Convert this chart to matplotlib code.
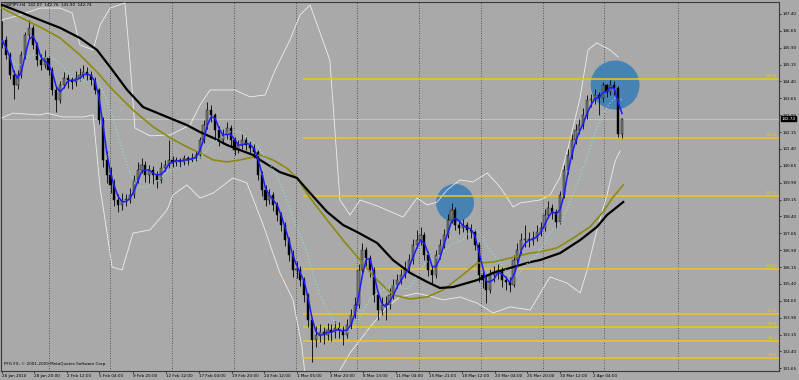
import numpy as np
import pandas as pd
import matplotlib
matplotlib.use("Agg")
import matplotlib.pyplot as plt
from matplotlib.patches import Ellipse
from matplotlib import font_manager

names = {f.name for f in font_manager.fontManager.ttflist}
narrow = "Liberation Sans Narrow" if "Liberation Sans Narrow" in names else "DejaVu Sans"
plt.rcParams["font.family"] = [narrow, "DejaVu Sans"]
SMALL = 4.2 if narrow != "DejaVu Sans" else 3.0

# GBPJPY H4 - candles grouped two bars per candle
closes = [146.24, 145.57, 144.69, 144.24, 144.69, 145.57, 146.46, 146.77, 146.02, 145.35,
          145.13, 145.44, 144.91, 144.02, 143.57, 144.24, 144.55, 144.46, 144.37, 144.55,
          144.69, 144.82, 144.69, 144.46, 144.02, 142.69, 140.91, 140.24, 139.80, 139.13,
          138.91, 139.13, 139.13, 139.35, 140.02, 140.46, 140.69, 140.24, 140.46, 140.24,
          140.02, 140.55, 140.69, 140.91, 140.82, 140.91, 140.82, 141.00, 140.91, 141.00,
          141.13, 141.80, 142.46, 143.13, 142.91, 142.24, 141.80, 142.02, 142.33, 141.80,
          141.35, 141.57, 141.80, 141.57, 141.44, 141.26, 140.24, 139.57, 139.13, 139.35,
          138.91, 138.46, 138.02, 137.35, 136.69, 136.02, 136.02, 135.57, 134.91, 133.80,
          132.91, 133.13, 133.26, 133.13, 133.35, 133.26, 133.44, 133.35, 133.13, 133.57,
          134.02, 134.46, 136.02, 136.91, 136.55, 136.02, 134.91, 134.24, 134.46, 134.46,
          134.91, 135.35, 135.57, 135.80, 136.11, 136.46, 137.13, 137.35, 137.57, 136.69,
          136.02, 135.80, 136.69, 137.13, 137.57, 138.24, 138.69, 138.02, 137.89, 138.02,
          137.80, 137.71, 137.13, 135.80, 135.57, 135.13, 135.80, 135.93, 136.02, 135.57,
          135.49, 135.35, 136.46, 136.91, 137.35, 137.35, 137.35, 137.44, 137.71, 137.89,
          138.46, 138.77, 138.60, 138.15, 139.35, 140.46, 141.13, 141.80, 142.24, 142.46,
          142.91, 143.57, 143.57, 143.80, 143.66, 144.24, 143.93, 144.24, 144.11, 142.07,
          142.74]
opens = [146.10] + closes[:-1]
highs = [147.10, 146.40, 145.70, 144.90, 144.90, 145.75, 146.60, 147.13, 146.90, 146.15,
         145.60, 145.80, 145.55, 145.05, 144.20, 144.40, 144.80, 144.75, 144.60, 144.85,
         145.00, 145.15, 145.05, 144.85, 144.60, 144.10, 142.80, 141.30, 140.60, 140.05,
         139.40, 139.45, 139.40, 139.65, 140.25, 140.80, 141.00, 140.85, 140.70, 140.65,
         140.40, 140.80, 140.90, 141.80, 141.10, 141.05, 141.00, 141.15, 141.10, 141.20,
         141.30, 141.95, 142.70, 143.48, 143.35, 143.00, 142.40, 142.30, 142.60, 142.45,
         141.95, 141.80, 142.05, 141.95, 141.75, 141.60, 141.35, 140.40, 139.80, 139.60,
         139.50, 139.05, 138.60, 138.15, 137.50, 136.90, 136.40, 136.20, 135.70, 135.00,
         133.95, 133.55, 133.60, 133.50, 133.65, 133.60, 133.75, 133.70, 133.55, 133.85,
         134.30, 134.80, 136.30, 137.22, 137.05, 136.70, 136.15, 135.10, 134.80, 134.85,
         135.20, 135.60, 135.85, 136.05, 136.40, 136.75, 137.40, 137.80, 137.93, 137.70,
         136.85, 136.20, 136.90, 137.40, 137.85, 138.50, 139.00, 138.80, 138.20, 138.30,
         138.15, 138.05, 137.85, 137.25, 136.00, 135.75, 136.05, 136.20, 136.30, 136.15,
         135.75, 135.70, 136.70, 137.20, 137.65, 138.02, 137.70, 137.75, 138.00, 138.15,
         138.75, 139.10, 138.95, 138.75, 139.55, 140.70, 141.40, 142.05, 142.50, 142.75,
         143.20, 143.80, 143.85, 144.05, 143.95, 144.37, 144.30, 144.46, 144.40, 144.20,
         142.76]
lows = [145.90, 145.40, 144.50, 143.60, 144.05, 144.55, 145.40, 146.30, 145.85, 145.10,
        144.90, 145.00, 144.70, 143.80, 143.04, 143.45, 144.10, 144.10, 144.05, 144.20,
        144.40, 144.55, 144.45, 144.25, 143.85, 142.50, 140.60, 139.90, 139.45, 138.85,
        138.60, 138.70, 138.85, 139.00, 139.20, 139.90, 140.35, 139.95, 139.90, 139.85,
        139.65, 139.90, 140.40, 140.55, 140.60, 140.65, 140.60, 140.70, 140.70, 140.80,
        140.85, 141.00, 141.65, 142.30, 142.60, 141.90, 141.55, 141.60, 141.85, 141.55,
        141.15, 141.20, 141.40, 141.35, 141.20, 141.00, 140.00, 139.30, 138.85, 138.95,
        138.65, 138.20, 137.75, 137.10, 136.40, 135.70, 135.65, 135.30, 134.60, 133.50,
        131.93, 132.60, 132.80, 132.75, 132.90, 132.85, 133.00, 133.00, 132.70, 133.00,
        133.40, 133.90, 134.35, 135.85, 136.20, 135.70, 134.60, 133.80, 134.00, 133.80,
        134.30, 134.75, 135.20, 135.40, 135.65, 135.95, 136.30, 137.00, 137.15, 136.45,
        135.75, 135.45, 135.65, 136.50, 137.00, 137.45, 138.10, 137.80, 137.60, 137.70,
        137.40, 137.45, 136.90, 135.50, 135.20, 134.55, 135.00, 135.50, 135.60, 135.25,
        135.13, 135.05, 135.25, 136.30, 136.75, 137.05, 137.05, 137.15, 137.30, 137.55,
        137.75, 138.35, 138.30, 137.89, 138.05, 139.20, 140.30, 140.95, 141.60, 142.05,
        142.30, 142.75, 143.25, 143.40, 142.90, 143.50, 143.70, 143.80, 143.80, 141.95,
        141.90]

# slow moving averages (they need history left of the screen, so read directly)
olive_x = [0, 4.6, 9.8, 15.0, 20.1, 24.5, 27.9, 33.8, 39.0, 43.4, 47.7, 51.1, 54.5, 58.1,
           61.4, 64.8, 66.6, 69.9, 73.5, 76.1, 79.5, 83.9, 88.0, 92.4, 96.8, 100.9, 105.3,
           109.7, 113.8, 118.2, 122.6, 126.7, 131.1, 136.3, 138.8, 143.2, 147.4, 151.7,
           155.1, 157.7, 160.3]
olive_p = [147.66, 147.26, 146.82, 146.33, 145.58, 144.82, 144.15, 143.13, 142.38, 141.89,
           141.49, 141.22, 140.91, 140.82, 140.91, 141.04, 141.13, 140.91, 140.55, 140.11,
           139.22, 138.24, 137.35, 136.46, 135.57, 134.91, 134.73, 134.82, 135.13, 135.71,
           136.33, 136.37, 136.55, 136.77, 136.82, 137.00, 137.44, 137.93, 138.60, 139.26,
           139.80]
black_x = [0, 4.6, 9.8, 15.0, 20.1, 24.5, 27.9, 32.3, 36.4, 42.6, 47.7, 51.1, 54.5, 58.1,
           61.4, 64.8, 66.6, 71.7, 76.1, 79.5, 83.9, 88.0, 91.6, 96.8, 100.9, 105.3, 109.7,
           113.0, 116.4, 122.6, 126.7, 131.1, 136.3, 138.8, 144.0, 149.2, 153.5, 156.1, 160.3]
black_p = [147.80, 147.49, 147.13, 146.78, 146.33, 145.80, 145.04, 144.02, 143.26, 142.82,
           142.46, 142.15, 141.89, 141.57, 141.35, 141.13, 140.91, 140.37, 140.11, 139.44,
           138.60, 138.02, 137.71, 137.22, 136.46, 135.89, 135.49, 135.22, 135.26, 135.57,
           135.89, 136.11, 136.37, 136.46, 136.77, 137.35, 137.93, 138.46, 139.04]

# bollinger bands
upper_x = [0, 4.6, 9.8, 15.0, 18.1, 20.1, 23.5, 25.3, 27.9, 31.7, 33.0, 34.3, 38.2, 43.4,
           48.5, 51.1, 53.7, 60.1, 64.0, 67.9, 70.5, 74.3, 76.9, 79.5, 84.6, 87.2, 89.8,
           92.4, 97.5, 103.5, 107.1, 109.7, 112.3, 114.8, 118.2, 121.5, 125.2, 128.5, 131.9,
           133.7, 138.8, 141.4, 144.0, 146.6, 149.2, 151.2, 153.5, 156.9, 159.0]
upper_p = [147.13, 147.35, 147.66, 147.66, 147.44, 146.02, 145.80, 146.91, 147.66, 147.89,
           145.35, 142.33, 141.98, 142.02, 142.46, 143.35, 144.02, 144.02, 143.71, 143.80,
           144.91, 146.24, 147.35, 147.80, 145.35, 139.13, 138.46, 139.13, 138.82, 138.37,
           139.22, 138.91, 139.04, 139.57, 140.02, 139.93, 140.33, 139.71, 138.82, 139.00,
           139.13, 139.35, 140.15, 141.80, 143.71, 145.80, 146.11, 145.80, 145.49]
lower_x = [0, 2.8, 9.8, 11.6, 15.7, 20.9, 23.5, 25.3, 27.1, 28.4, 31.0, 33.8, 38.2, 42.6,
           44.1, 47.7, 51.1, 54.5, 59.6, 63.2, 67.4, 71.7, 75.1, 77.4, 78.2, 82.1, 86.5,
           89.8, 92.4, 95.0, 99.4, 102.7, 107.1, 111.2, 113.8, 118.2, 122.6, 126.7, 131.1,
           136.3, 141.4, 145.8, 149.2, 151.0, 153.5, 156.1, 158.2, 159.5]
lower_p = [142.78, 142.99, 142.91, 142.99, 142.82, 142.82, 142.91, 139.71, 137.66, 136.15,
           136.02, 137.66, 137.80, 138.69, 139.35, 139.80, 139.22, 139.44, 140.11, 139.89,
           138.02, 135.89, 134.69, 132.60, 131.35, 130.46, 131.35, 132.33, 132.91, 133.49,
           134.38, 134.82, 134.99, 134.82, 134.69, 134.82, 134.55, 134.11, 134.38, 134.24,
           135.71, 135.44, 135.00, 136.02, 137.80, 139.35, 140.86, 141.31]

fib_levels = [144.51, 141.88, 139.29, 136.06, 134.06, 133.49, 132.86, 132.10]
fib_names = ["261.8", "211.8", "161.8", "100.0", "61.8", "50.0", "38.2", "23.6"]

date_labels = ["26 Jan 2010", "28 Jan 20:00", "2 Feb 12:00", "5 Feb 04:00", "9 Feb 20:00",
               "12 Feb 12:00", "17 Feb 04:00", "19 Feb 20:00", "24 Feb 12:00", "1 Mar 05:00",
               "3 Mar 20:00", "8 Mar 13:00", "11 Mar 04:00", "15 Mar 21:00", "18 Mar 12:00",
               "23 Mar 04:00", "25 Mar 20:00", "30 Mar 12:00", "2 Apr 04:00"]
date_pos = [0, 8.3, 16.8, 25.0, 33.8, 42.3, 50.8, 59.4, 67.6, 76.1, 84.6, 93.2, 101.7,
            110.2, 118.7, 127.2, 135.5, 144.0, 152.5]
week_lines = [12.1, 27.9, 43.9, 59.9, 75.9, 91.6, 107.6, 123.6, 139.6, 155.4, 174.5]

price_ticks = [131.65 + 0.75 * i for i in range(22)]
last_price = 142.74

BG = "#a9a9a9"
GOLD = "#ecc81c"

df = pd.DataFrame({"open": opens, "high": highs, "low": lows, "close": closes})
df["x"] = np.arange(len(df))
fast_ma = df["close"].rolling(3, min_periods=1).mean()
mid_ma = df["close"].rolling(10, min_periods=1).mean()

fig = plt.figure(figsize=(7.99, 3.80), dpi=100, facecolor=BG)
ax = fig.add_axes([1 / 799, 9 / 380, 778 / 799, 369 / 380], facecolor=BG)
ax.set_xlim(-0.26, 200.5)
ax.set_ylim(131.53, 147.93)

# weekly separators
for w in week_lines:
    ax.axvline(w, color="#3a3a3a", lw=0.6, ls=(0, (1, 2)), zorder=1)

ax.axhline(last_price, color="#c9c9c9", lw=0.6, zorder=1)

# circles
ax.add_patch(Ellipse((116.9, 139.0), 9.8, 1.69, color="#4682b4", zorder=2, lw=0))
ax.add_patch(Ellipse((158.2, 144.24), 12.6, 2.18, color="#4682b4", zorder=2, lw=0))

# bands
ax.plot(upper_x, upper_p, color="white", lw=0.6, alpha=0.8, zorder=3)
ax.plot(lower_x, lower_p, color="white", lw=0.6, alpha=0.8, zorder=3)

# fibo
ax.hlines(fib_levels, 77.7, 200.5, color=GOLD, lw=1.1, zorder=3)
for lv, nm in zip(fib_levels, fib_names):
    ax.text(200.0, lv + 0.05, nm, color=GOLD, fontsize=SMALL, ha="right", va="bottom", zorder=6)
ax.plot([68.6, 116.3], [136.06, 130.84], color="#e8a040", lw=0.7, ls=(0, (1, 2)), zorder=3)

# candles
up = df["close"] >= df["open"]
ax.vlines(df["x"], df["low"], df["high"], color="black", lw=0.6, zorder=4)
body_lo = df[["open", "close"]].min(axis=1)
body_h = (df["close"] - df["open"]).abs().clip(lower=0.03)
ax.bar(df["x"][up], body_h[up], bottom=body_lo[up], width=0.55, color="#7c7c7c",
       edgecolor="black", lw=0.3, zorder=4)
ax.bar(df["x"][~up], body_h[~up], bottom=body_lo[~up], width=0.55, color="black",
       edgecolor="black", lw=0.3, zorder=4)

# moving averages
ax.plot(olive_x, olive_p, color="#8c8a10", lw=1.2, zorder=5)
ax.plot(black_x, black_p, color="black", lw=1.6, zorder=5)
ax.plot(df["x"], mid_ma, color="#8fe2e2", lw=0.8, ls=(0, (1, 2)), zorder=5)
ax.plot(df["x"], fast_ma, color="#1c1cff", lw=1.1, zorder=5)

# axes look
for s in ax.spines.values():
    s.set_color("#3a3a3a")
    s.set_linewidth(0.8)
ax.yaxis.tick_right()
ax.set_yticks(price_ticks)
ax.set_yticklabels(["%.2f" % p for p in price_ticks])
ax.set_xticks(date_pos)
ax.set_xticklabels(date_labels, ha="left")
ax.tick_params(axis="both", labelsize=SMALL, length=1.5, width=0.6, color="#202020", pad=1.0)

ax.text(1.003, last_price, "%.2f" % last_price, transform=ax.get_yaxis_transform(),
        color="white", fontsize=SMALL, ha="left", va="center", zorder=7,
        bbox=dict(facecolor="black", edgecolor="black", pad=0.5))

fig.text(4 / 799, 1 - 3 / 380, "GBPJPY,H4  142.07  142.76  141.90  142.74", fontsize=SMALL,
         ha="left", va="top", color="black")
fig.text(4 / 799, 1 - 366 / 380, "PFG FX, \u00a9 2001-2009 MetaQuotes Software Corp.",
         fontsize=SMALL, ha="left", va="bottom", color="black")

fig.savefig("out.png", dpi=100, facecolor=BG)
